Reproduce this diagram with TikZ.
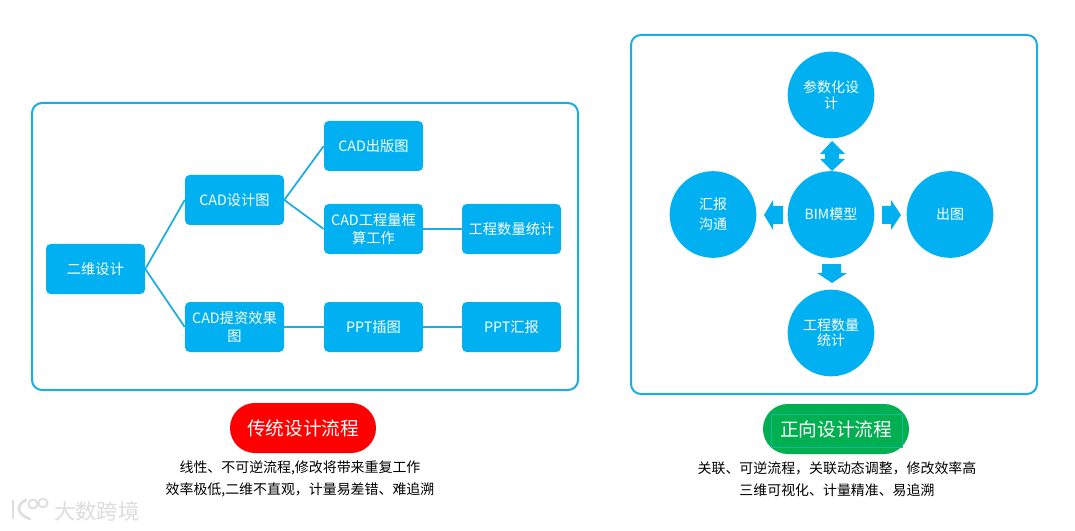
\documentclass[tikz,border=0pt]{standalone}
\usepackage{fontspec}
\setmainfont{Noto Sans CJK SC}
\usetikzlibrary{calc}
\definecolor{cyanfill}{HTML}{00B0F0}
\definecolor{frameline}{HTML}{1BADE2}
\definecolor{pillgreen}{HTML}{00B050}
\definecolor{tealline}{HTML}{14B8A0}
\definecolor{markhalo}{HTML}{DDDDDD}
\tikzset{
  x=0.75pt,y=-0.75pt,
  panel/.style={draw=frameline,line width=1.5pt,rounded corners=7.5pt,fill=white},
  flowbox/.style={fill=cyanfill,text=white,rounded corners=3.5pt,minimum width=74.25pt,minimum height=37.5pt,inner sep=1pt,align=center,font=\fontsize{10.7pt}{13pt}\selectfont,text width=72pt},
  ball/.style={circle,fill=cyanfill,text=white,minimum size=65pt,inner sep=0pt,align=center,font=\fontsize{10.5pt}{11.5pt}\selectfont,text width=48pt},
  link/.style={draw=frameline,line width=1.3pt},
  blockarrow/.style={fill=cyanfill},
  pill/.style={rounded corners=18.7pt,minimum width=109.5pt,minimum height=37.5pt,text=white,inner sep=0pt,font=\fontsize{14pt}{17pt}\selectfont},
  caption/.style={align=center,font=\fontsize{10.45pt}{16.5pt}\selectfont,text=black,inner sep=0pt},
  markstroke/.style={draw=markhalo,line width=2pt,line cap=round},
}
\begin{document}
\begin{tikzpicture}
\useasboundingbox (0,0) rectangle (1075,531);
\fill[white] (0,0) rectangle (1075,531);
% panels
\draw[panel] (32,103) rectangle (578,390);
\draw[panel] (631,35) rectangle (1037,394);
% flow boxes
\node[flowbox] (twod) at (95.5,269) {二维设计};
\node[flowbox] (cadd) at (234.5,200) {CAD设计图};
\node[flowbox] (cade) at (373.5,146) {CAD出版图};
\node[flowbox] (cadq) at (373.5,229) {CAD工程量框\\算工作};
\node[flowbox] (stat) at (511.5,229) {工程数量统计};
\node[flowbox] (cadr) at (234.5,327) {CAD提资效果\\图};
\node[flowbox] (ppti) at (373.5,327) {PPT插图};
\node[flowbox] (ppth) at (511.5,327) {PPT汇报};
\draw[link] (twod.east) -- (cadd.west);
\draw[link] (twod.east) -- (cadr.west);
\draw[link] (cadd.east) -- (cade.west);
\draw[link] (cadd.east) -- (cadq.west);
\draw[link] (cadq.east) -- (stat.west);
\draw[link] (cadr.east) -- (ppti.west);
\draw[link] (ppti.east) -- (ppth.west);
% circles
\node[ball] (param) at (831,95) {参数化设\\计};
\node[ball] (bim) at (831,214.5) {BIM模型};
\node[ball] (report) at (713,214.5) {汇报\\[3.5pt]沟通};
\node[ball] (draw) at (950,214.5) {出图};
\node[ball] (qty) at (831,333) {工程数量\\统计};
% block arrows
\fill[blockarrow] (832,141) -- (845,154) -- (839,154) -- (839,159) -- (845,159) -- (832,171) -- (820,159) -- (825,159) -- (825,154) -- (820,154) -- cycle;
\fill[blockarrow] (764,215) -- (773,200) -- (773,206) -- (783,206) -- (783,224) -- (773,224) -- (773,230) -- cycle;
\fill[blockarrow] (901,215) -- (891,200) -- (891,206) -- (882,206) -- (882,224) -- (891,224) -- (891,230) -- cycle;
\fill[blockarrow] (832,283) -- (817,273) -- (822,273) -- (822,264) -- (841,264) -- (841,273) -- (847,273) -- cycle;
% titles
\node[pill,fill=red] (tradtitle) at (303,428) {传统设计流程};
\node[pill,fill=pillgreen] (fwdtitle) at (836,429) {正向设计流程};
\draw[tealline,line width=0.4pt] (771,414) rectangle (902,447);
% captions
\node[caption] (tradtext) at (300,479) {线性、不可逆流程,修改将带来重复工作\\效率极低,二维不直观，计量易差错、难追溯};
\node[caption] (fwdtext) at (837,479) {关联、可逆流程，关联动态调整，修改效率高\\三维可视化、计量精准、易追溯};
% watermark
\draw[markstroke] (13,501) -- (13,518);
\draw[markstroke] (26,500) .. controls (16,505) and (16,514) .. (30,519);
\draw[markstroke,line width=1.3pt] (33,504) circle (4.5);
\draw[markstroke,line width=1.3pt] (43,503) circle (4.5);
\node[text=markhalo,inner sep=0pt,font=\fontsize{16pt}{18pt}\selectfont] (mark) at (97,511) {大数跨境};
\end{tikzpicture}
\end{document}
